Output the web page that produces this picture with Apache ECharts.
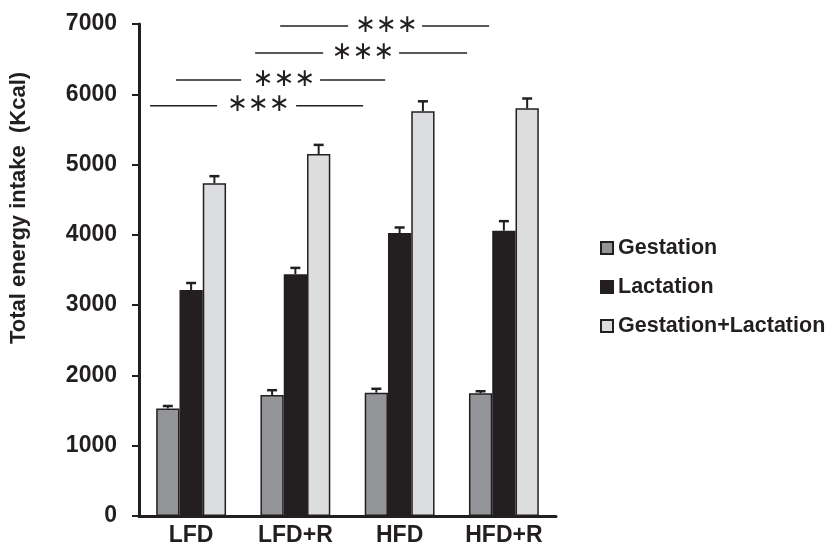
<!DOCTYPE html>
<html>
<head>
<meta charset="utf-8">
<script src="https://cdn.jsdelivr.net/npm/echarts@6/dist/echarts.min.js"></script>
<style>
html,body{margin:0;padding:0;background:#fff;}
#chart{width:828px;height:553px;}
</style>
</head>
<body>
<div id="chart"></div>
<script>
var categories = ['LFD', 'LFD+R', 'HFD', 'HFD+R'];
var seriesNames = ['Gestation', 'Lactation', 'Gestation+Lactation'];
var gestation = [1530, 1720, 1755, 1745];
var gestationErr = [35, 70, 55, 30];
var lactation = [3215, 3440, 4025, 4060];
var lactationErr = [100, 90, 80, 135];
var gestLact = [4735, 5150, 5760, 5800];
var gestLactErr = [100, 130, 140, 140];
var yTicks = [0, 1000, 2000, 3000, 4000, 5000, 6000, 7000];
var yTitle = 'Total energy intake  (Kcal)';
// significance brackets in category units: [leftStart, leftEnd, starsAt, rightStart, rightEnd, yValue]
var sigBrackets = [
  [0.854, 1.506, 1.875, 2.216, 2.858, 6970],
  [0.614, 1.266, 1.650, 1.995, 2.647, 6586],
  [-0.144, 0.480, 0.892, 1.237, 1.861, 6202],
  [-0.393, 0.249, 0.647, 1.007, 1.650, 5836]
];
var sigText = '\u2217\u2217\u2217';

var ink = '#231f20';
var colors = ['#939598', '#231f20', '#dcdddf'];
var catGap = 0.33;
var font = '"Liberation Sans", Arial, sans-serif';

function errSeries(idx, vals, errs) {
  return {
    type: 'custom',
    name: seriesNames[idx] + ' err',
    xAxisIndex: 0,
    yAxisIndex: 0,
    z: 5,
    silent: true,
    data: vals.map(function (v, i) { return [i, v, errs[i]]; }),
    renderItem: function (params, api) {
      var c = api.value(0), v = api.value(1), e = api.value(2);
      var band = api.size([1, 0])[0];
      var bw = band * (1 - catGap) / 3;
      var off = (idx - 1) * bw;
      var base = api.coord([c, v]);
      var top = api.coord([c, v + e]);
      var x = base[0] + off;
      var cap = 5;
      return {
        type: 'group',
        children: [
          {type: 'line', shape: {x1: x, y1: base[1], x2: x, y2: top[1]}, style: {stroke: ink, lineWidth: 2}},
          {type: 'line', shape: {x1: x - cap, y1: top[1], x2: x + cap, y2: top[1]}, style: {stroke: ink, lineWidth: 2.5}}
        ]
      };
    }
  };
}

function barSeries(idx, vals) {
  return {
    type: 'bar',
    name: seriesNames[idx],
    data: vals,
    barGap: '0%',
    barCategoryGap: (catGap * 100) + '%',
    itemStyle: {color: colors[idx], borderColor: ink, borderWidth: 1.5},
    emphasis: {disabled: true}
  };
}

var chart = echarts.init(document.getElementById('chart'), null, {renderer: 'canvas'});
var option = {
  animation: false,
  backgroundColor: '#fff',
  grid: {left: 139, right: 272, top: 24, bottom: 37, containLabel: false},
  legend: {
    orient: 'vertical',
    left: 595,
    top: 232,
    itemWidth: 12,
    itemHeight: 12,
    itemGap: 17,
    icon: 'rect',
    data: seriesNames,
    textStyle: {fontFamily: font, fontWeight: 'bold', fontSize: 21.5, color: ink},
    selectedMode: false
  },
  xAxis: [{
    type: 'category',
    data: categories,
    axisLine: {lineStyle: {color: ink, width: 3}},
    axisTick: {show: false},
    axisLabel: {fontFamily: font, fontWeight: 'bold', fontSize: 23, color: ink, margin: 8},
    splitLine: {show: false}
  }, {
    type: 'value',
    min: -0.5,
    max: 3.5,
    show: false,
    splitLine: {show: false}
  }],
  yAxis: [{
    type: 'value',
    min: yTicks[0],
    max: yTicks[yTicks.length - 1],
    interval: yTicks[1] - yTicks[0],
    axisLine: {show: true, onZero: false, lineStyle: {color: ink, width: 3}},
    axisTick: {show: true, inside: false, length: 7, lineStyle: {color: ink, width: 2}},
    axisLabel: {fontFamily: font, fontWeight: 'bold', fontSize: 23, color: ink, margin: 22,
      formatter: function (v) { return String(v); }},
    splitLine: {show: false}
  }],
  graphic: [{
    type: 'text',
    x: 19,
    y: 208,
    rotation: Math.PI / 2,
    style: {text: yTitle, fontFamily: font, fontWeight: 'bold', fontSize: 22, fill: ink, textAlign: 'center', textVerticalAlign: 'middle'}
  }],
  series: [
    barSeries(0, gestation),
    barSeries(1, lactation),
    barSeries(2, gestLact),
    errSeries(0, gestation, gestationErr),
    errSeries(1, lactation, lactationErr),
    errSeries(2, gestLact, gestLactErr),
    {
      type: 'custom',
      name: 'significance',
      xAxisIndex: 1,
      yAxisIndex: 0,
      silent: true,
      data: sigBrackets,
      renderItem: function (params, api) {
        var y = api.value(5);
        var a = api.coord([api.value(0), y]);
        var b = api.coord([api.value(1), y]);
        var s = api.coord([api.value(2), y]);
        var d = api.coord([api.value(3), y]);
        var e = api.coord([api.value(4), y]);
        return {
          type: 'group',
          children: [
            {type: 'line', shape: {x1: a[0], y1: a[1], x2: b[0], y2: b[1]}, style: {stroke: ink, lineWidth: 1.5}},
            {type: 'line', shape: {x1: d[0], y1: d[1], x2: e[0], y2: e[1]}, style: {stroke: ink, lineWidth: 1.5}},
            {type: 'text', x: s[0], y: s[1] - 1, style: {text: sigText, fontFamily: '"DejaVu Sans", sans-serif', fontSize: 25, fill: ink, textAlign: 'center', textVerticalAlign: 'middle'}}
          ]
        };
      }
    }
  ]
};
chart.setOption(option);
</script>
</body>
</html>
